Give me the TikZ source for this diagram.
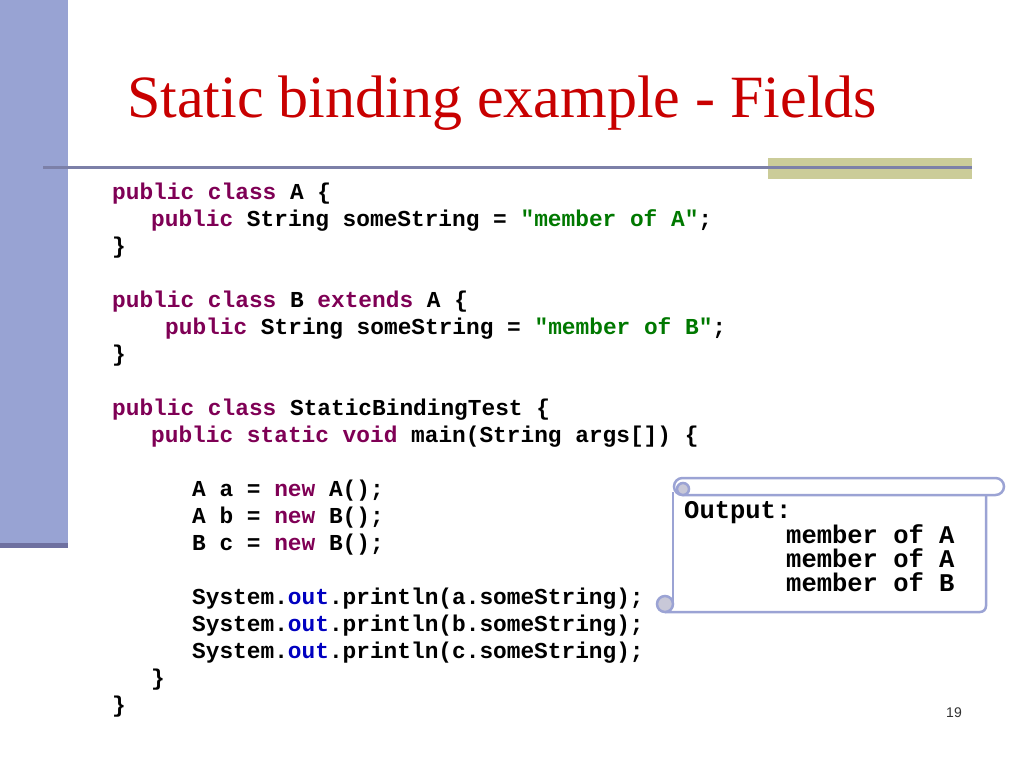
\documentclass[tikz,border=0pt]{standalone}
\usepackage{fontspec}
\setmainfont{Liberation Serif}
\newfontfamily\codefont{Liberation Mono}
\newfontfamily\numfont{Liberation Sans}
\definecolor{barblue}{RGB}{152,163,211}
\definecolor{bardark}{RGB}{110,112,160}
\definecolor{rulec}{RGB}{124,128,168}
\definecolor{olive}{RGB}{203,204,153}
\definecolor{titlered}{RGB}{200,0,0}
\definecolor{kwc}{RGB}{127,0,85}
\definecolor{strc}{RGB}{0,120,0}
\definecolor{outc}{RGB}{0,0,192}
\definecolor{scrollc}{RGB}{155,163,212}
\definecolor{curlc}{RGB}{200,200,216}
\definecolor{numc}{RGB}{50,50,50}
\newcommand{\kw}[1]{\textcolor{kwc}{#1}}
\newcommand{\st}[1]{\textcolor{strc}{#1}}
\newcommand{\ou}[1]{\textcolor{outc}{#1}}
\frenchspacing
\begin{document}
\begin{tikzpicture}[x=1pt,y=-1pt,
  codeline/.style={anchor=base west,inner sep=0pt,font=\codefont\bfseries\fontsize{22.8}{27}\selectfont},
  outline/.style={anchor=base west,inner sep=0pt,font=\codefont\bfseries\fontsize{25.5}{24}\selectfont},
  scrollline/.style={draw=scrollc,line width=2.5pt}]
\useasboundingbox (0,0) rectangle (1024,768);
% left bar
\fill[barblue] (0,0) rectangle (68,544);
\fill[bardark] (0,543) rectangle (68,548);
% header rule
\fill[olive] (768,158) rectangle (972,179);
\draw[rulec,line width=3pt] (43,167) -- (972,167);
% title
\node[anchor=base west,inner sep=0pt,text=titlered,font=\fontsize{60}{62}\selectfont] (title) at (127,117) {Static binding example - Fields};
% code
\node[codeline] (l1) at (112,199) {\kw{public class} A \{};
\node[codeline] (l2) at (151,226) {\kw{public} String someString = \st{"member of A"};};
\node[codeline] (l3) at (112,253) {\}};
\node[codeline] (l5) at (112,307) {\kw{public class} B \kw{extends} A \{};
\node[codeline] (l6) at (165,334) {\kw{public} String someString = \st{"member of B"};};
\node[codeline] (l7) at (112,361) {\}};
\node[codeline] (l9) at (112,415) {\kw{public class} StaticBindingTest \{};
\node[codeline] (l10) at (151,442) {\kw{public static void} main(String args[]) \{};
\node[codeline] (l12) at (192,496) {A a = \kw{new} A();};
\node[codeline] (l13) at (192,523) {A b = \kw{new} B();};
\node[codeline] (l14) at (192,550) {B c = \kw{new} B();};
\node[codeline] (l16) at (192,604) {System.\ou{out}.println(a.someString);};
\node[codeline] (l17) at (192,631) {System.\ou{out}.println(b.someString);};
\node[codeline] (l18) at (192,658) {System.\ou{out}.println(c.someString);};
\node[codeline] (l19) at (151,685) {\}};
\node[codeline] (l20) at (112,712) {\}};
% scroll
\fill[white] (673,490) rectangle (986,612);
\draw[scrollline] (673,492) -- (673,604);
\draw[scrollline] (665,612) -- (980,612) arc[start angle=90,end angle=0,radius=6] -- (986,494);
\draw[scrollline,fill=curlc] (665,604) circle[radius=8];
\draw[scrollline,fill=white,rounded corners=8.5pt] (674,478) rectangle (1004,495);
\draw[scrollline,fill=curlc] (683,489) circle[radius=6];
\node[outline] (o1) at (684,518) {Output:};
\node[outline] (o2) at (786,543) {member of A};
\node[outline] (o3) at (786,567) {member of A};
\node[outline] (o4) at (786,591) {member of B};
% page number
\node[inner sep=0pt,text=numc,font=\numfont\fontsize{14}{16}\selectfont] (pg) at (954,713) {19};
\end{tikzpicture}
\end{document}
